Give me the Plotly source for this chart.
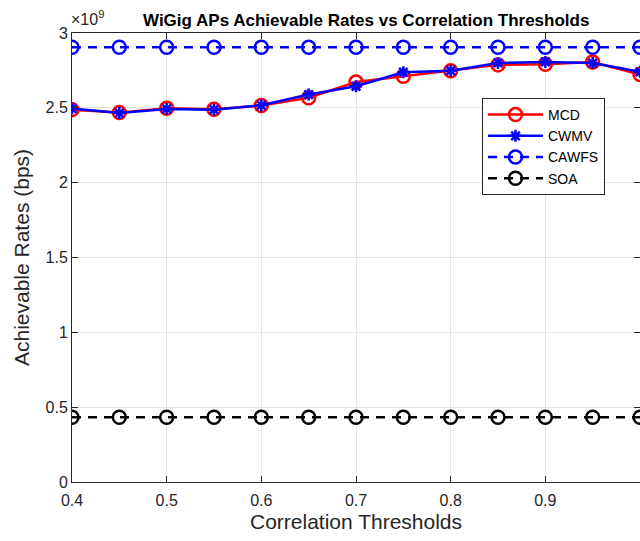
import plotly.graph_objects as go

thresholds = [0.4, 0.45, 0.5, 0.55, 0.6, 0.65, 0.7, 0.75, 0.8, 0.85, 0.9, 0.95, 1.0]
mcd = [2.488, 2.468, 2.497, 2.490, 2.515, 2.567, 2.672, 2.711, 2.747, 2.787, 2.791, 2.806, 2.722]
cwmv = [2.495, 2.465, 2.493, 2.488, 2.517, 2.589, 2.644, 2.738, 2.748, 2.800, 2.807, 2.799, 2.741]
cawfs = [2.905] * 13
soa = [0.433] * 13
scale = 1e9

y_ticks = [0, 0.5, 1, 1.5, 2, 2.5, 3]
y_tick_labels = ["0", "0.5", "1", "1.5", "2", "2.5", "3"]
x_ticks = [0.4, 0.5, 0.6, 0.7, 0.8, 0.9, 1.0]
x_tick_labels = ["0.4", "0.5", "0.6", "0.7", "0.8", "0.9", "1"]

FONT = "Liberation Sans, Arial, sans-serif"
W, H = 640, 541
L, R, T, B = 72, 0, 33, 541 - 482
pw, ph = W - L - R, H - T - B

fig = go.Figure()
fig.add_trace(go.Scatter(x=thresholds, y=[v * scale for v in mcd], name="MCD", mode="lines+markers",
                         line=dict(color="#ff0000", width=2.5),
                         marker=dict(symbol="circle-open", size=13, line=dict(width=2.5, color="#ff0000"))))
fig.add_trace(go.Scatter(x=thresholds, y=[v * scale for v in cwmv], name="CWMV", mode="lines+markers",
                         line=dict(color="#0000ff", width=2.5),
                         marker=dict(symbol="asterisk-open", size=10, line=dict(width=2.5, color="#0000ff"))))
fig.add_trace(go.Scatter(x=thresholds, y=[v * scale for v in cawfs], name="CAWFS", mode="lines+markers",
                         line=dict(color="#0000ff", width=2.5, dash="9px,7px"),
                         marker=dict(symbol="circle-open", size=13, line=dict(width=2.5, color="#0000ff"))))
fig.add_trace(go.Scatter(x=thresholds, y=[v * scale for v in soa], name="SOA", mode="lines+markers",
                         line=dict(color="#000000", width=2.5, dash="9px,7px"),
                         marker=dict(symbol="circle-open", size=13, line=dict(width=2.5, color="#000000"))))

axis_common = dict(showline=True, linecolor="#262626", linewidth=1, mirror="ticks",
                   ticks="inside", ticklen=6, tickcolor="#262626", automargin=False,
                   showgrid=True, gridcolor="#e6e6e6", gridwidth=1, zeroline=False,
                   tickfont=dict(family=FONT, size=16, color="#262626"))

fig.update_xaxes(range=[0.4, 1.0], tickvals=x_ticks, ticktext=x_tick_labels, ticklabelstandoff=4,
                 title=dict(text="Correlation Thresholds", font=dict(family=FONT, size=21, color="#262626"),
                            standoff=6), **axis_common)
fig.update_yaxes(range=[0, 3 * scale], tickvals=[v * scale for v in y_ticks], ticktext=y_tick_labels,
                 title=dict(text="Achievable Rates (bps)", font=dict(family=FONT, size=21, color="#262626"),
                            standoff=10), **axis_common)

fig.add_annotation(text="<b>WiGig APs Achievable Rates vs Correlation Thresholds</b>",
                   xref="paper", yref="paper", x=(366 - L) / pw, y=1 + (T - 20) / ph,
                   xanchor="center", yanchor="middle", showarrow=False,
                   font=dict(family=FONT, size=17, color="#000000"))
fig.add_annotation(text="×10<sup>9</sup>", xref="paper", yref="paper",
                   x=-0.005, y=1 + (T - 18) / ph, xanchor="left", yanchor="middle", showarrow=False,
                   font=dict(family=FONT, size=16, color="#262626"))

fig.update_layout(width=W, height=H, margin=dict(l=L, r=R, t=T, b=B, autoexpand=False),
                  paper_bgcolor="white", plot_bgcolor="white", showlegend=True,
                  legend=dict(x=(482 - L) / pw, y=(482 - 98) / ph, xanchor="left", yanchor="top",
                              bgcolor="white", bordercolor="#262626", borderwidth=1,
                              font=dict(family=FONT, size=14, color="#000000"),
                              itemwidth=55, tracegroupgap=0))

fig.write_html("out.html", config={"displayModeBar": False},
               post_script="document.body.style.margin='0';document.body.style.overflow='hidden';")
